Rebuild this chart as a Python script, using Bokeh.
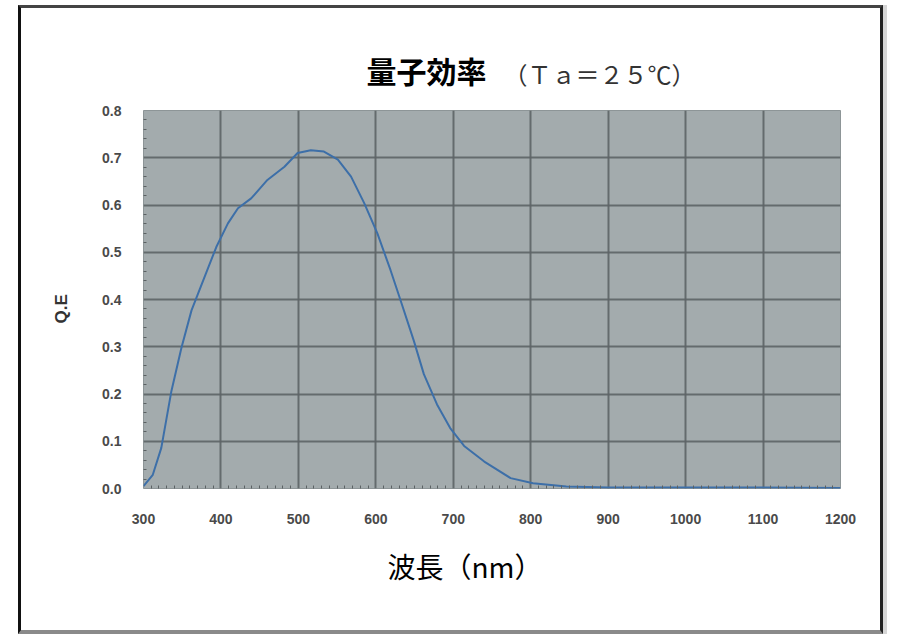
from bokeh.plotting import figure
from bokeh.models import Title, FixedTicker
from bokeh.embed import file_html
from bokeh.resources import INLINE

# ---- data ----
wavelength_nm = [300, 312, 323, 336, 349, 362, 377, 394, 409, 422, 439, 460, 482, 499,
                 516, 533, 551, 568, 585, 602, 619, 632, 649, 662, 679, 696, 714, 740,
                 774, 803, 846, 900, 1000, 1100, 1200]
qe_values = [0.005, 0.029, 0.086, 0.206, 0.298, 0.377, 0.44, 0.511, 0.561, 0.593, 0.614,
             0.653, 0.681, 0.710, 0.716, 0.713, 0.696, 0.660, 0.604, 0.540, 0.462, 0.398,
             0.313, 0.242, 0.178, 0.128, 0.090, 0.057, 0.022, 0.011, 0.004, 0.002, 0.002,
             0.002, 0.001]
x_ticks = [300, 400, 500, 600, 700, 800, 900, 1000, 1100, 1200]
x_tick_labels = ["300", "400", "500", "600", "700", "800", "900", "1000", "1100", "1200"]
y_ticks = [0.0, 0.1, 0.2, 0.3, 0.4, 0.5, 0.6, 0.7, 0.8]
y_tick_labels = ["0.0", "0.1", "0.2", "0.3", "0.4", "0.5", "0.6", "0.7", "0.8"]
title_main = "量子効率"
title_sub = "（Ｔａ＝２５℃）"
x_title = "波長（nm）"
y_title = "Q.E"

# page geometry (reference pixels)
FL, FT, FW, FH = 142, 110, 697, 378      # plot frame left/top/width/height
CL, CT = 21, 8                          # canvas origin inside the drawn border
W, H = 858, 622

cjk = "Noto Sans CJK JP"
sub = Title(text=title_sub, align="left", offset=360, standoff=-128,
            text_font=cjk, text_font_size="24px", text_font_style="normal",
            text_color="#333333")

p = figure(width=W, height=H, output_backend="svg", toolbar_location=None,
           x_range=(300, 1200), y_range=(0, 0.8), title=sub,
           min_border_left=FL - CL, min_border_right=W - (FL - CL) - FW,
           min_border_top=FT - CT, min_border_bottom=H - (FT - CT) - FH)
p.frame_width = FW
p.frame_height = FH
p.styles = {"margin-left": "18px", "margin-top": "5px",
            "border-left": "3px solid #111111", "border-top": "3px solid #444444",
            "border-right": "3px solid #222222", "border-bottom": "4px solid #8a8a8a",
            "box-shadow": "4px 0px 0px #d6d6d6"}

p.add_layout(Title(text=title_main, align="left", offset=365 - FL, standoff=38,
                   text_font=cjk, text_font_size="30px", text_font_style="bold",
                   text_color="black"), "above")
p.add_layout(Title(text=x_title, align="left", offset=386 - FL, standoff=35,
                   text_font=cjk, text_font_size="28px", text_font_style="normal",
                   text_color="black"), "below")
p.add_layout(Title(text=y_title, align="left", offset=165, standoff=57,
                   text_font="Liberation Sans", text_font_size="17px",
                   text_font_style="bold", text_color="#333333"), "left")

p.background_fill_color = "#a3abad"
p.border_fill_color = "white"
p.outline_line_color = "#8d9597"
p.outline_line_width = 1

xm = []
for a, b in zip(x_ticks[:-1], x_ticks[1:]):
    xm += [a + (b - a) * k / 10 for k in range(1, 10)]
ym = []
for a, b in zip(y_ticks[:-1], y_ticks[1:]):
    ym += [a + (b - a) * k / 5 for k in range(1, 5)]

for ax, ticks, labels, minors in ((p.xaxis[0], x_ticks, x_tick_labels, xm),
                                  (p.yaxis[0], y_ticks, y_tick_labels, ym)):
    ax.ticker = FixedTicker(ticks=ticks, minor_ticks=minors)
    ax.major_label_overrides = {t: l for t, l in zip(ticks, labels)}
    ax.axis_line_color = None
    ax.major_tick_in = 0
    ax.major_tick_out = 0
    ax.minor_tick_in = 3
    ax.minor_tick_out = 0
    ax.minor_tick_line_color = "#5b6163"
    ax.major_label_text_font = "Liberation Sans"
    ax.major_label_text_font_size = "14px"
    ax.major_label_text_font_style = "bold"
    ax.major_label_text_color = "#4a4a4a"
p.xaxis[0].major_label_standoff = 25
p.yaxis[0].major_label_standoff = 22

p.grid.grid_line_color = "#5d6466"
p.grid.grid_line_width = 2
p.grid.grid_line_alpha = 0.9

p.line(wavelength_nm, qe_values, line_color="#3d6fa8", line_width=2)

open("out.html", "w").write(file_html(p, INLINE))
